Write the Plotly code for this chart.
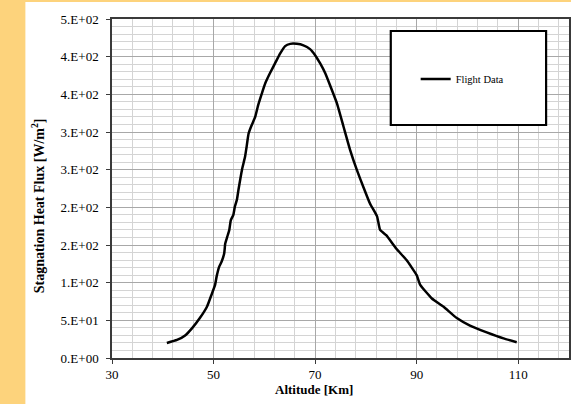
import plotly.graph_objects as go

# Data
altitude_km = [40.8, 42.8, 44.4, 45.7, 47.3, 48.7, 49.6, 50.3, 50.6, 51.1, 51.6, 52.1, 52.3, 52.7,
               53.1, 53.4, 53.9, 54.2, 54.6, 54.9, 55.6, 56.2, 56.5, 56.9, 57.5, 58.2, 58.8, 59.5,
               60.2, 61.1, 62.1, 63.1, 64.1, 65.1, 66.4, 67.7, 69.0, 70.0, 71.0, 72.0, 73.0, 74.3,
               75.6, 76.9, 78.2, 79.5, 80.8, 82.2, 82.8, 84.0, 86.0, 88.0, 90.0, 90.7, 93.0, 95.3,
               97.9, 100.5, 103.8, 107.1, 109.7]
heat_flux = [20, 24, 30, 39, 53, 68, 84, 97, 108, 121, 128, 139, 152, 161,
             170, 183, 190, 201, 210, 223, 250, 267, 280, 298, 309, 320, 336, 351,
             365, 378, 391, 404, 414, 417, 417, 415, 410, 402, 391, 378, 361, 338,
             307, 276, 250, 227, 205, 188, 170, 163, 145, 130, 110, 97, 79, 68,
             53, 43, 34, 26, 21]

series_name = "Flight Data"
y_tick_values = [0, 50, 100, 150, 200, 250, 300, 350, 400, 450]
y_tick_labels = ["0.E+00", "5.E+01", "1.E+02", "2.E+02", "2.E+02",
                 "3.E+02", "3.E+02", "4.E+02", "4.E+02", "5.E+02"]
x_title = "Altitude [Km]"
y_title = "Stagnation Heat Flux [W/m<sup>2</sup>]"

FONT = "Liberation Serif, Times New Roman, serif"
W, H = 571, 404
L, R, T, B = 112, 0, 19, 46
pw, ph = W - L - R, H - T - B

def px_x(p):
    return (p - L) / pw

def px_y(p):
    return (H - B - p) / ph

fig = go.Figure()
fig.add_trace(go.Scatter(
    x=altitude_km, y=heat_flux, mode="lines", name=series_name,
    line=dict(color="black", width=2.5, shape="spline", smoothing=0.4),
))

axis_common = dict(
    showline=True, linecolor="#3a3a3a", linewidth=1.5, mirror=True,
    ticks="outside", ticklen=4, tickcolor="#3a3a3a", tickwidth=1,
    showgrid=True, gridcolor="#a8a8a8", gridwidth=1,
    zeroline=False,
    tickfont=dict(family=FONT, size=13, color="black"),
)

fig.update_xaxes(
    range=[30, 120], tick0=30, dtick=20,
    minor=dict(dtick=4, tick0=30, showgrid=True, gridcolor="#d4d4d4", gridwidth=1, ticklen=0),
    **axis_common,
)
fig.update_yaxes(
    range=[0, 450], tickmode="array", tickvals=y_tick_values, ticktext=y_tick_labels,
    minor=dict(dtick=10, tick0=0, showgrid=True, gridcolor="#d4d4d4", gridwidth=1, ticklen=0),
    ticklabelstandoff=5,
    **axis_common,
)

shapes = [
    # white page area over the orange background
    dict(type="rect", xref="paper", yref="paper", layer="below",
         x0=px_x(25), x1=px_x(W + 5), y0=px_y(H + 5), y1=px_y(2),
         fillcolor="white", line=dict(width=0)),
    # legend frame
    dict(type="rect", xref="paper", yref="paper", layer="above",
         x0=px_x(392), x1=px_x(548), y0=px_y(125), y1=px_y(31),
         fillcolor="white", line=dict(color="black", width=2.2)),
]

annotations = [
    dict(text="<b>" + x_title + "</b>", xref="paper", yref="paper",
         x=px_x(315), y=px_y(389), showarrow=False,
         xanchor="center", yanchor="middle",
         font=dict(family=FONT, size=13, color="black")),
    dict(text="<b>" + y_title + "</b>", xref="paper", yref="paper",
         x=px_x(38), y=px_y(206), showarrow=False, textangle=-90,
         xanchor="center", yanchor="middle",
         font=dict(family=FONT, size=14, color="black")),
]

fig.update_layout(
    width=W, height=H,
    margin=dict(l=L, r=R, t=T, b=B, pad=0),
    paper_bgcolor="#FDD37C",
    plot_bgcolor="white",
    shapes=shapes,
    annotations=annotations,
    showlegend=True,
    legend=dict(x=px_x(417), y=px_y(79), xanchor="left", yanchor="middle",
                bgcolor="rgba(0,0,0,0)", borderwidth=0,
                font=dict(family=FONT, size=10.5, color="black")),
)

fig.write_html(
    "out.html",
    config={"displayModeBar": False},
    post_script="document.body.style.margin='0';document.body.style.overflow='hidden';",
)
